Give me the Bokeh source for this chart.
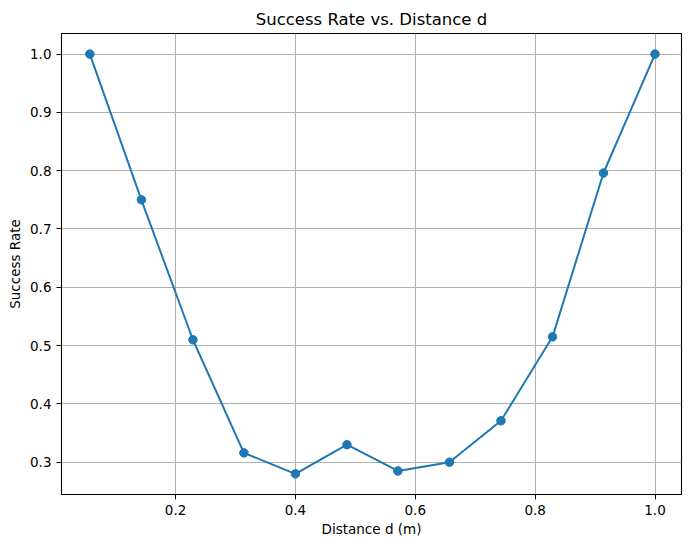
from bokeh.plotting import figure
from bokeh.models import Range1d, FixedTicker, CustomJSTickFormatter, ColumnDataSource
from bokeh.embed import file_html
from bokeh.resources import INLINE

distance = [0.057, 0.143, 0.229, 0.314, 0.400, 0.486, 0.571, 0.657, 0.743, 0.829, 0.914, 1.000]
success_rate = [1.00, 0.75, 0.51, 0.316, 0.28, 0.33, 0.285, 0.30, 0.371, 0.515, 0.796, 1.00]
x_ticks = [0.2, 0.4, 0.6, 0.8, 1.0]
y_ticks = [0.3, 0.4, 0.5, 0.6, 0.7, 0.8, 0.9, 1.0]

FONT = "DejaVu Sans"
BLUE = "#1f77b4"

src = ColumnDataSource(dict(x=distance, y=success_rate))

p = figure(width=691, height=547, output_backend="svg", toolbar_location=None,
           x_range=Range1d(0.0097, 1.0442), y_range=Range1d(0.2446, 1.0353),
           title="Success Rate vs. Distance d",
           min_border_left=61, min_border_right=10, min_border_top=33, min_border_bottom=53)

p.line("x", "y", source=src, line_color=BLUE, line_width=2)
p.scatter("x", "y", source=src, size=8.5, fill_color=BLUE, line_color=BLUE)

p.title.align = "center"
p.title.text_font = FONT
p.title.text_font_size = "16.5px"
p.title.text_font_style = "normal"
p.title.text_color = "black"

for ax, ticks in ((p.xaxis[0], x_ticks), (p.yaxis[0], y_ticks)):
    ax.ticker = FixedTicker(ticks=ticks)
    ax.formatter = CustomJSTickFormatter(code="return tick.toFixed(1);")
    ax.major_label_text_font = FONT
    ax.major_label_text_font_size = "13.5px"
    ax.major_label_text_color = "black"
    ax.axis_label_text_font = FONT
    ax.axis_label_text_font_size = "13.5px"
    ax.axis_label_text_font_style = "normal"
    ax.axis_label_text_color = "black"
    ax.major_tick_out = 5
    ax.major_tick_in = 0
    ax.minor_tick_line_color = None
    ax.major_tick_line_color = "black"
    ax.axis_line_color = "black"
    ax.major_label_standoff = 5

p.xaxis[0].axis_label_standoff = 3
p.yaxis[0].axis_label_standoff = 4

p.xaxis.axis_label = "Distance d (m)"
p.yaxis.axis_label = "Success Rate"

p.grid.grid_line_color = "#b0b0b0"
p.grid.grid_line_width = 1.1
p.outline_line_color = "black"
p.outline_line_width = 1.1
p.background_fill_color = "white"
p.border_fill_color = "white"

open("out.html", "w").write(file_html(p, INLINE))
